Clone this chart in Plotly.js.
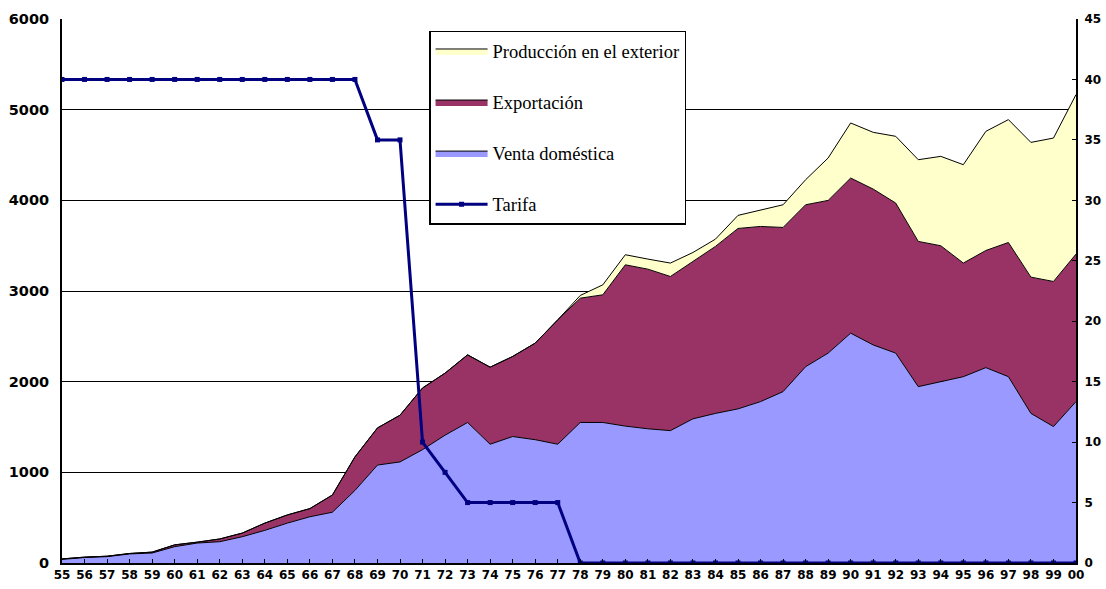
<!DOCTYPE html>
<html>
<head>
<meta charset="utf-8">
<script src="https://cdn.plot.ly/plotly-3.0.1.min.js"></script>
<style>html,body{margin:0;padding:0;background:#fff;}#chart{width:1106px;height:589px;}</style>
</head>
<body>
<div id="chart"></div>
<script>
const years = [1955,1956,1957,1958,1959,1960,1961,1962,1963,1964,1965,1966,1967,1968,1969,1970,1971,1972,1973,1974,1975,1976,1977,1978,1979,1980,1981,1982,1983,1984,1985,1986,1987,1988,1989,1990,1991,1992,1993,1994,1995,1996,1997,1998,1999,2000];
const yearLabels = ["55","56","57","58","59","60","61","62","63","64","65","66","67","68","69","70","71","72","73","74","75","76","77","78","79","80","81","82","83","84","85","86","87","88","89","90","91","92","93","94","95","96","97","98","99","00"];
const ventaDomestica = [40,60,70,100,110,180,220,235,290,360,440,510,560,800,1080,1115,1250,1410,1550,1310,1395,1360,1310,1550,1550,1510,1480,1460,1590,1650,1700,1780,1890,2165,2315,2535,2405,2315,1945,2000,2055,2155,2055,1650,1505,1780];
const exportacion = [5,5,5,5,10,20,10,30,40,80,90,90,190,370,410,515,680,684,746,850,883,1065,1372,1371,1408,1779,1761,1700,1736,1842,1990,1932,1811,1786,1684,1711,1719,1655,1602,1499,1253,1292,1480,1503,1600,1627];
const produccionExterior = [0,0,0,0,0,0,0,0,0,0,0,0,0,0,0,0,0,0,0,0,0,0,0,30,110,111,111,148,99,80,144,184,250,276,468,607,626,736,901,986,1085,1314,1355,1486,1582,1759];
const tarifa = [40,40,40,40,40,40,40,40,40,40,40,40,40,40,35,35,10,7.5,5,5,5,5,5,0,0,0,0,0,0,0,0,0,0,0,0,0,0,0,0,0,0,0,0,0,0,0];

const traces = [
  {x: years, y: ventaDomestica, name: 'Venta doméstica', type: 'scatter', mode: 'lines',
   stackgroup: 'one', fillcolor: '#9999FF', line: {color: '#000000', width: 1},
   legendgroup: 'c', legendrank: 3},
  {x: years, y: exportacion, name: 'Exportación', type: 'scatter', mode: 'lines',
   stackgroup: 'one', fillcolor: '#993366', line: {color: '#000000', width: 1},
   legendgroup: 'b', legendrank: 2},
  {x: years, y: produccionExterior, name: 'Producción en el exterior', type: 'scatter', mode: 'lines',
   stackgroup: 'one', fillcolor: '#FFFFCC', line: {color: '#000000', width: 1},
   legendgroup: 'a', legendrank: 1},
  {x: years, y: tarifa, name: 'Tarifa', type: 'scatter', mode: 'lines+markers', yaxis: 'y2',
   line: {color: '#000080', width: 3}, marker: {symbol: 'square', size: 5, color: '#000080'},
   legendgroup: 'd', legendrank: 4}
];

const tickFont = {family: 'DejaVu Sans', size: 12, color: '#000', weight: 'bold'};

const layout = {
  width: 1106, height: 589,
  margin: {l: 62, r: 30, t: 19, b: 26},
  paper_bgcolor: '#fff', plot_bgcolor: '#fff',
  showlegend: true,
  legend: {
    x: 0.362, y: 0.978, xanchor: 'left', yanchor: 'top',
    bgcolor: '#fff', bordercolor: '#000', borderwidth: 1.5,
    font: {family: 'Liberation Serif', size: 18.5, color: '#000'},
    traceorder: 'grouped', tracegroupgap: 24, itemwidth: 52
  },
  xaxis: {
    type: 'linear', range: [1955, 2000], tickvals: years, ticktext: yearLabels,
    ticks: 'inside', ticklen: 4, tickcolor: '#000', tickwidth: 1,
    showline: true, linecolor: '#000', linewidth: 2, showgrid: false, zeroline: false,
    tickfont: tickFont, tickangle: 0
  },
  yaxis: {
    range: [0, 6000], dtick: 1000, showgrid: true, gridcolor: '#000', gridwidth: 1,
    showline: true, linecolor: '#000', linewidth: 2, zeroline: false, ticks: '',
    ticklabelstandoff: 8,
    tickfont: {family: 'DejaVu Sans', size: 14.5, color: '#000', weight: 'bold'}
  },
  yaxis2: {
    overlaying: 'y', side: 'right', range: [0, 45], dtick: 5, showgrid: false,
    showline: true, linecolor: '#000', linewidth: 2, zeroline: false,
    ticks: 'inside', ticklen: 4, tickcolor: '#000', ticklabelstandoff: 4,
    tickfont: tickFont
  }
};

Plotly.newPlot('chart', traces, layout, {displayModeBar: false, staticPlot: true});
</script>
</body>
</html>
